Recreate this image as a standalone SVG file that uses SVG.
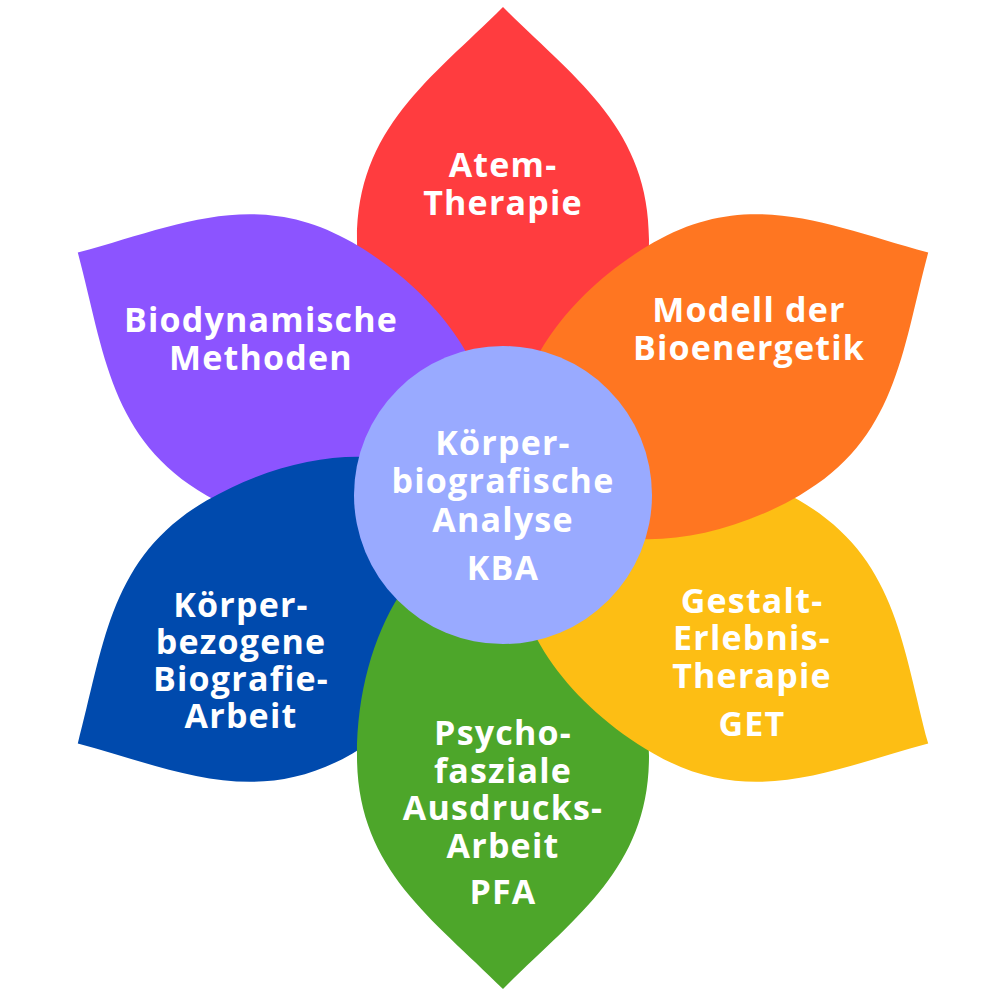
<svg xmlns="http://www.w3.org/2000/svg" width="1000" height="1000" viewBox="0 0 1000 1000">
  <defs>
    <path id="petal" d="M 0,-30 C 81,-30 146,-133 146,-258 C 146,-370 72,-419 0,-491 C -72,-419 -146,-370 -146,-258 C -146,-133 -81,-30 0,-30 Z"/>
    <style>
      .lbl { font-family: "Open Sans", "Noto Sans", "DejaVu Sans", sans-serif; font-weight: 700; font-size: 34px; fill: #ffffff; text-anchor: middle; letter-spacing: 1.2px; }
    </style>
  </defs>
  <rect x="0" y="0" width="1000" height="1000" fill="#ffffff"/>
  <g id="connectors"></g>
  <g id="petal-atem">
    <use href="#petal" transform="translate(503,498) rotate(0)" fill="#FF3C3F"/>
    <text class="lbl" x="503" y="177">Atem-</text>
    <text class="lbl" x="503" y="215">Therapie</text>
  </g>
  <g id="petal-biodynamisch">
    <use href="#petal" transform="translate(503,498) rotate(300)" fill="#8C54FF"/>
    <text class="lbl" x="261" y="332">Biodynamische</text>
    <text class="lbl" x="261" y="370">Methoden</text>
  </g>
  <g id="petal-koerperbezogen">
    <use href="#petal" transform="translate(503,498) rotate(240)" fill="#004AAD"/>
    <text class="lbl" x="241" y="617">Körper-</text>
    <text class="lbl" x="241" y="654">bezogene</text>
    <text class="lbl" x="241" y="691">Biografie-</text>
    <text class="lbl" x="241" y="728">Arbeit</text>
  </g>
  <g id="petal-pfa">
    <use href="#petal" transform="translate(503,498) rotate(180)" fill="#4DA62A"/>
    <text class="lbl" x="503" y="745">Psycho-</text>
    <text class="lbl" x="503" y="783">fasziale</text>
    <text class="lbl" x="503" y="820">Ausdrucks-</text>
    <text class="lbl" x="503" y="858">Arbeit</text>
    <text class="lbl" x="503" y="904">PFA</text>
  </g>
  <g id="petal-get">
    <use href="#petal" transform="translate(503,498) rotate(120)" fill="#FDBE14"/>
    <text class="lbl" x="752" y="613">Gestalt-</text>
    <text class="lbl" x="752" y="650">Erlebnis-</text>
    <text class="lbl" x="752" y="688">Therapie</text>
    <text class="lbl" x="752" y="736">GET</text>
  </g>
  <g id="petal-bioenergetik">
    <use href="#petal" transform="translate(503,498) rotate(60)" fill="#FF7621"/>
    <text class="lbl" x="749" y="322">Modell der</text>
    <text class="lbl" x="749" y="360">Bioenergetik</text>
  </g>
  <g id="center-kba">
    <circle cx="503" cy="495" r="149" fill="#99AAFF"/>
    <text class="lbl" x="503" y="455">Körper-</text>
    <text class="lbl" x="503" y="493">biografische</text>
    <text class="lbl" x="503" y="532">Analyse</text>
    <text class="lbl" x="503" y="580">KBA</text>
  </g>
</svg>
